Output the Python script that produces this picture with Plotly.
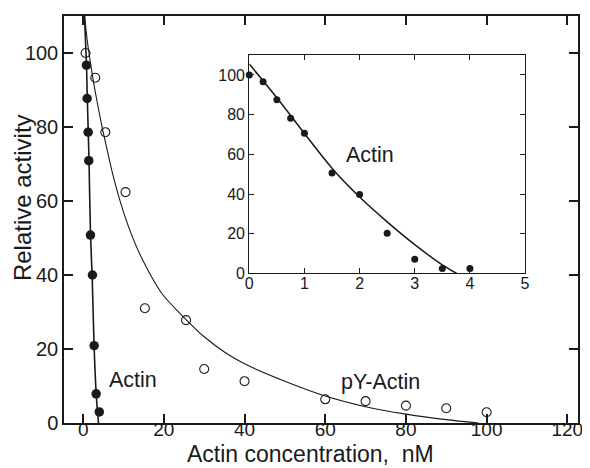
import plotly.graph_objects as go

# ---------------- data ----------------
# Main panel: unmodified actin (filled circles)
actin_x = [0.82, 0.98, 1.24, 1.39, 1.81, 2.30, 2.72, 3.22, 4.00]
actin_y = [96.7, 87.7, 78.6, 70.9, 50.8, 40.0, 20.9, 7.9, 3.0]
actin_fit_x = [0.32, 0.82, 1.0, 1.25, 1.45, 1.82, 2.25, 2.7, 3.25, 3.8]
actin_fit_y = [110, 97, 89, 79, 71, 51, 39, 21, 7.5, 0]

# Main panel: pY-actin (open circles)
py_x = [0.6, 3.0, 5.5, 10.5, 15.3, 25.5, 30, 40, 60, 70, 80, 90, 100]
py_y = [100, 93.3, 78.6, 62.4, 31.0, 27.8, 14.6, 11.3, 6.4, 5.9, 4.7, 4.0, 2.9]
py_fit_x = [0.35, 1, 2, 3, 4.5, 5.5, 7.5, 10, 12.5, 15, 19.5, 25, 30, 35, 40,
            50, 60, 70, 80, 90, 98]
py_fit_y = [110, 103.5, 96, 89.5, 81, 76, 66.5, 57, 49.5, 43.5, 35, 28.5, 23.3,
            19.2, 16, 11.3, 7.3, 4.4, 2.4, 0.9, 0]

# Inset: actin at low concentration
inset_x = [0, 0.25, 0.5, 0.75, 1.0, 1.5, 2.0, 2.5, 3.0, 3.5, 4.0]
inset_y = [100, 96.6, 87.5, 78.2, 70.6, 50.6, 39.8, 20.3, 7.2, 2.5, 2.5]
inset_fit_x = [0, 0.5, 1.0, 1.5, 2.0, 2.5, 3.0, 3.5, 3.76]
inset_fit_y = [105.5, 88.5, 70.5, 53, 38.5, 26, 14.5, 4.3, 0]

main_xticks = [0, 20, 40, 60, 80, 100, 120]
main_yticks = [0, 20, 40, 60, 80, 100]
inset_xticks = [0, 1, 2, 3, 4, 5]
inset_yticks = [0, 20, 40, 60, 80, 100]

# ---------------- styling ----------------
INK = "#1a1a1a"
FONT = "Liberation Sans, Arial, Helvetica, sans-serif"

fig = go.Figure()

# main panel
fig.add_trace(go.Scatter(x=actin_fit_x, y=actin_fit_y, mode="lines",
                         line=dict(color=INK, width=1.6, shape="spline", smoothing=0.8),
                         xaxis="x", yaxis="y", hoverinfo="skip", cliponaxis=False))
fig.add_trace(go.Scatter(x=py_fit_x, y=py_fit_y, mode="lines",
                         line=dict(color=INK, width=1.1, shape="spline", smoothing=0.8),
                         xaxis="x", yaxis="y", hoverinfo="skip", cliponaxis=False))
fig.add_trace(go.Scatter(x=actin_x, y=actin_y, mode="markers",
                         marker=dict(symbol="circle", size=9.5, color=INK),
                         xaxis="x", yaxis="y", cliponaxis=False))
fig.add_trace(go.Scatter(x=py_x, y=py_y, mode="markers",
                         marker=dict(symbol="circle-open", size=9, color=INK,
                                     line=dict(width=1.1, color=INK)),
                         xaxis="x", yaxis="y", cliponaxis=False))

# inset
fig.add_trace(go.Scatter(x=inset_fit_x, y=inset_fit_y, mode="lines",
                         line=dict(color=INK, width=1.5, shape="spline", smoothing=0.8),
                         xaxis="x2", yaxis="y2", hoverinfo="skip", cliponaxis=False))
fig.add_trace(go.Scatter(x=inset_x, y=inset_y, mode="markers",
                         marker=dict(symbol="circle", size=7, color=INK),
                         xaxis="x2", yaxis="y2", cliponaxis=False))

axis_common = dict(showgrid=False, zeroline=False, showline=True, linecolor=INK,
                   mirror="ticks", ticks="inside", tickcolor=INK, color=INK)

# The page body has an 8px default margin, so the plot area is offset by
# margins 8px smaller on the left/top to land where the reference has it.
fig.update_layout(
    width=590, height=468,
    margin=dict(l=56, r=20, t=6, b=53),
    paper_bgcolor="white", plot_bgcolor="white",
    showlegend=False,
    font=dict(family=FONT, color=INK),
    xaxis=dict(domain=[0, 1], range=[-4.75, 122.65], tickvals=main_xticks,
               ticklen=9, tickwidth=1.5, linewidth=1.5, ticklabelstandoff=-12,
               tickfont=dict(size=19, family=FONT), anchor="y", **axis_common),
    yaxis=dict(domain=[0, 1], range=[0, 110], tickvals=main_yticks,
               ticklen=9, tickwidth=1.5, linewidth=1.5,
               tickfont=dict(size=20, family=FONT), anchor="x", **axis_common),
    xaxis2=dict(domain=[0.3605, 0.897], range=[0, 5], tickvals=inset_xticks,
                ticklen=5, tickwidth=1.2, linewidth=1.2, ticklabelstandoff=-5,
                tickfont=dict(size=16, family=FONT), anchor="y2", **axis_common),
    yaxis2=dict(domain=[0.3675, 0.904], range=[0, 110], tickvals=inset_yticks,
                ticklen=5, tickwidth=1.2, linewidth=1.2,
                tickfont=dict(size=16, family=FONT), anchor="x2", **axis_common),
    annotations=[
        dict(text="Actin", x=12.45, y=11.5, xref="x", yref="y", showarrow=False,
             font=dict(size=21.5, family=FONT, color=INK)),
        dict(text="pY-Actin", x=73.6, y=11.0, xref="x", yref="y", showarrow=False,
             font=dict(size=21.5, family=FONT, color=INK)),
        dict(text="Actin", x=2.19, y=59.5, xref="x2", yref="y2", showarrow=False,
             font=dict(size=21.5, family=FONT, color=INK)),
        dict(text="Relative activity", x=-0.0817, y=0.5526, xref="paper", yref="paper",
             showarrow=False, textangle=-90, xanchor="center", yanchor="middle",
             font=dict(size=24, family=FONT, color=INK)),
        dict(text="Actin concentration,  nM", x=0.48, y=-0.076, xref="paper", yref="paper",
             showarrow=False, xanchor="center", yanchor="middle",
             font=dict(size=23, family=FONT, color=INK)),
    ],
)

fig.write_html("out.html")
